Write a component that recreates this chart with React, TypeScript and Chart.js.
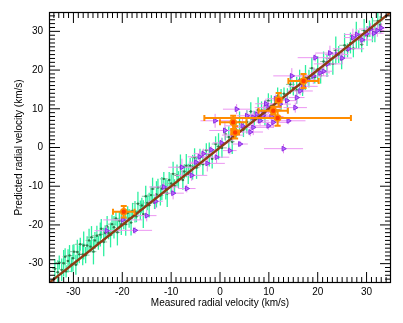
import { useEffect, useRef } from "react";
import { Chart, registerables } from "chart.js";

Chart.register(...registerables);

// ---- axis ----
const axisMin = -35;
const axisMax = 35;
const tickValues = [-30, -20, -10, 0, 10, 20, 30];
const xTitle = "Measured radial velocity (km/s)";
const yTitle = "Predicted radial velocity (km/s)";

// ---- y = x reference line ----
const lineX = [-35, 35];
const lineY = [-35, 35];

// ---- green sample ----
const greenX = [
  -33.8, -33.2, -32.9, -32.4, -32.0, -31.7, -31.5, -31.1, -30.8, -30.4, -30.1, -29.9, -29.5, -29.2, -28.8, -28.6, -28.1, -27.9, -27.5, -27.2,
  -26.8, -26.5, -26.3, -25.9, -25.6, -25.2, -24.9, -24.5, -24.3, -23.8, -23.5, -23.1, -22.8, -22.4, -22.1, -21.7, -21.3, -21.0, -20.6, -20.2,
  -19.7, -19.3, -18.9, -18.6, -18.2, -17.9, -17.4, -17.1, -16.8, -16.3, -16.0, -15.7, -15.2, -14.9, -14.5, -14.1, -13.8, -13.4, -13.0, -12.7,
  -12.2, -11.9, -11.5, -11.1, -10.8, -10.4, -10.0, -9.6, -9.3, -8.8, -8.5, -8.1, -7.6, -7.3, -6.9, -6.5, -6.1, -5.6, -5.2, -4.8,
  -4.1, -3.5, -2.8, -2.2, -1.6, -0.9, -0.3, 0.4, 1.1, 1.8, 2.5, 3.3, 4.0, 4.8, 5.5, 6.3, 7.0, 7.8,
  8.5, 9.2, 9.9, 10.5, 11.2, 11.8, 12.5, 13.1, 13.8, 14.4, 15.0, 15.7, 16.3, 16.9, 17.5, 18.2, 18.8, 19.4, 20.0, 20.6,
  21.2, 21.9, 22.5, 23.1, 23.7, 24.3, 24.9, 25.5, 26.1, 26.7, 27.3, 27.9, 28.4, 29.0, 29.5, 30.1, 30.6, 31.2, 31.7, 32.3, 32.8,
];
const greenY = [
  -31.3, -32.2, -29.7, -31.6, -29.9, -28.2, -32.0, -29.3, -27.9, -30.2, -28.6, -26.9, -30.3, -27.0, -27.6, -25.0, -27.6, -25.3, -27.8, -25.3,
  -24.0, -25.6, -23.2, -26.9, -24.0, -22.8, -24.6, -22.5, -21.0, -24.4, -22.1, -20.4, -22.1, -22.6, -19.8, -20.6, -18.3, -21.9, -18.9, -19.8,
  -18.5, -19.8, -16.9, -18.3, -19.4, -16.4, -16.6, -17.8, -14.5, -16.2, -15.0, -17.2, -12.6, -14.3, -14.9, -12.3, -10.7, -14.3, -12.1, -10.3,
  -12.4, -10.6, -8.1, -10.7, -11.9, -8.4, -9.3, -6.8, -9.9, -7.2, -8.3, -5.1, -8.4, -6.2, -4.7, -6.8, -4.7, -5.1, -2.6, -5.2,
  -2.6, -4.3, -0.7, -1.8, -2.9, 0.9, 0.3, -0.1, 3.5, 2.7, 1.5, 4.6, 6.6, 4.6, 6.6, 9.3, 7.3, 9.7,
  9.5, 8.6, 12.1, 10.8, 9.8, 13.3, 12.3, 13.9, 12.2, 16.3, 15.4, 14.8, 17.5, 15.1, 18.1, 17.8, 20.5, 18.2, 20.2, 18.6,
  22.2, 21.2, 23.0, 21.6, 25.1, 24.0, 22.7, 26.4, 25.1, 27.0, 25.6, 29.1, 27.9, 26.6, 30.2, 28.8, 30.7, 30.4, 29.7, 32.7, 31.7,
];
const greenXErr = [
  0.6, 0.4, 0.9, 0.3, 0.7, 0.5, 1.0, 0.4, 0.8, 0.6, 0.3, 0.9, 0.5, 0.7, 0.4, 1.1, 0.6, 0.3, 0.8, 0.5,
  0.7, 0.4, 0.9, 0.6, 0.3, 1.0, 0.5, 0.8, 0.4, 0.7, 0.6, 0.3, 0.9, 0.5, 0.8, 0.4, 0.7, 0.6, 1.0, 0.5,
  0.5, 0.8, 0.4, 0.7, 0.3, 0.9, 0.6, 0.4, 1.0, 0.5, 0.7, 0.3, 0.8, 0.6, 0.4, 0.9, 0.5, 0.7, 0.3, 1.1,
  0.6, 0.4, 0.8, 0.5, 0.7, 0.3, 0.9, 0.6, 0.4, 0.8, 0.5, 1.0, 0.3, 0.7, 0.6, 0.4, 0.9, 0.5, 0.8, 0.6,
  0.7, 0.4, 0.9, 0.5, 0.3, 0.8, 0.6, 1.0, 0.4, 0.7, 0.5, 0.3, 0.9, 0.6, 0.8, 0.4, 0.7, 0.5,
  0.6, 0.3, 0.8, 0.5, 1.0, 0.4, 0.7, 0.6, 0.3, 0.9, 0.5, 0.8, 0.4, 0.7, 0.3, 1.0, 0.6, 0.5, 0.8, 0.4,
  0.7, 0.3, 0.9, 0.6, 0.5, 0.8, 0.4, 1.1, 0.6, 0.3, 0.7, 0.5, 0.9, 0.4, 0.6, 0.8, 0.3, 0.7, 0.5, 1.0, 0.4,
];
const greenYErr = [
  2.5, 3.1, 1.8, 2.9, 3.4, 2.2, 1.6, 3.0, 2.7, 2.0, 3.5, 1.9, 2.6, 3.2, 2.3, 1.7, 2.8, 3.6, 2.1, 2.4,
  3.0, 1.5, 2.9, 3.3, 2.2, 2.6, 1.8, 3.1, 2.5, 3.7, 2.0, 2.7, 1.6, 3.2, 2.4, 2.9, 1.9, 3.4, 2.3, 2.8,
  2.6, 3.0, 1.7, 2.4, 3.3, 2.1, 2.8, 1.5, 3.1, 2.5, 2.0, 3.6, 2.7, 1.9, 3.2, 2.3, 2.9, 1.6, 3.4, 2.2,
  2.6, 3.0, 1.8, 2.7, 3.5, 2.1, 2.4, 3.1, 1.7, 2.8, 2.2, 3.3, 2.5, 1.9, 3.0, 2.6, 2.0, 3.2, 2.4, 2.9,
  2.3, 2.9, 1.8, 3.1, 2.5, 2.0, 3.4, 2.6, 1.7, 2.8, 3.2, 2.1, 2.7, 1.9, 3.0, 2.4, 2.2, 3.3,
  2.4, 3.0, 1.9, 2.7, 3.3, 2.2, 2.8, 1.6, 3.1, 2.5, 2.0, 3.5, 2.6, 1.8, 3.2, 2.3, 2.9, 1.7, 3.4, 2.1,
  2.6, 3.0, 1.9, 2.8, 3.6, 2.2, 2.5, 3.1, 1.8, 2.7, 2.3, 3.4, 2.4, 2.0, 3.0, 2.6, 2.1, 3.2, 2.5, 2.9, 2.2,
];

// ---- purple sample ----
const purpleX = [
  -23.2, -19.9, -17.4, -15.0, -13.2, -11.5, -9.6, -7.8, -6.8, -5.8, -4.9, -4.2, -3.4, -2.6, -1.8, -0.7, -1.0, 0.3, 1.0, 2.0,
  2.6, 3.4, 4.1, 4.6, 5.5, 6.2, 6.8, 6.8, 7.5, 8.2, 8.8, 8.9, 9.4, 9.9, 9.9, 10.5, 10.9, 11.4, 12.3, 13.0,
  13.7, 14.0, 14.7, 15.4, 15.7, 16.4, 17.0, 18.0, 19.1, 19.5, 20.5, 21.2, 22.0, 22.5, 23.9, 25.0, 26.3, 27.2, 28.0, 29.1,
  30.0, 30.8, 31.5, 32.2, 33.0,
];
const purpleY = [
  -21.5, -18.7, -21.4, -17.6, -13.9, -10.2, -11.8, -5.1, -10.6, -7.2, -3.8, -2.4, -1.6, -4.1, -0.6, -2.5, 6.9, 1.2, 4.4, -0.8,
  3.2, 9.9, 0.9, 5.6, 8.2, 4.0, 7.8, 5.2, 8.6, 6.9, 8.2, 9.1, 11.3, 10.3, 5.6, 8.0, 6.5, 12.6, 11.2, -0.3,
  12.1, 6.9, 18.5, 10.3, 12.9, 14.6, 15.8, 17.4, 18.5, 23.2, 19.3, 19.7, 21.6, 24.4, 24.0, 23.1, 25.5, 28.4, 29.2, 27.8,
  29.4, 30.6, 29.5, 30.2, 30.9,
];
const purpleXErr = [
  2.5, 4.0, 3.5, 2.0, 1.5, 3.0, 2.2, 2.8, 1.8, 3.2, 1.5, 2.4, 2.0, 3.6, 1.2, 2.6, 3.0, 1.8, 3.2, 1.4,
  2.2, 2.8, 1.6, 3.5, 2.0, 2.6, 1.4, 4.2, 2.4, 1.8, 3.0, 1.5, 2.2, 2.8, 1.6, 2.5, 3.4, 1.8, 2.2, 4.0,
  2.0, 3.5, 3.8, 2.4, 1.6, 2.6, 3.0, 2.2, 3.2, 3.6, 2.0, 1.8, 2.8, 3.0, 2.4, 2.0, 3.2, 1.8, 2.6, 2.2,
  1.6, 2.4, 2.0, 1.4, 1.2,
];
const purpleYErr = [
  1.2, 1.8, 0.9, 1.5, 2.0, 1.1, 1.6, 2.2, 1.0, 1.4, 0.8, 1.7, 1.3, 2.1, 0.9, 1.5, 1.8, 1.2, 2.4, 1.0,
  1.6, 1.3, 0.8, 1.9, 1.4, 1.1, 1.7, 2.0, 1.2, 1.5, 0.9, 1.8, 1.3, 1.6, 1.0, 2.2, 1.4, 1.1, 1.7, 1.2,
  1.5, 0.9, 2.0, 1.3, 1.6, 1.1, 1.8, 1.4, 2.1, 1.0, 1.5, 1.2, 1.7, 1.9, 1.3, 1.6, 1.0, 2.3, 1.4, 1.2,
  1.8, 1.5, 1.1, 1.6, 1.3,
];

// ---- orange sample ----
const orangeX = [-19.7, 2.7, 3.1, 10.9, 12.0, 11.8, 17.1];
const orangeY = [-16.6, 6.5, 3.9, 9.5, 12.3, 7.6, 17.2];
const orangeXErr = [2.2, 2.7, 0.8, 3.0, 0.6, 15.0, 3.1];
const orangeYErr = [1.5, 1.7, 1.6, 1.0, 1.8, 2.0, 1.8];

const toPoints = (xs: number[], ys: number[]) => xs.map((x, i) => ({ x, y: ys[i] }));

const errorBarPlugin = {
  id: "errorBars",
  beforeDatasetDraw(chart: any, args: any) {
    const ds: any = chart.data.datasets[args.index];
    const eb = ds.errorBars;
    if (!eb) return;
    const { ctx, chartArea: a, scales } = chart;
    const xs = scales.x;
    const ys = scales.y;
    ctx.save();
    ctx.beginPath();
    ctx.rect(a.left, a.top, a.right - a.left, a.bottom - a.top);
    ctx.clip();
    ctx.lineCap = "butt";
    ds.data.forEach((p: any, i: number) => {
      const ex = eb.x[i] ?? 0;
      const ey = eb.y[i] ?? 0;
      const px = xs.getPixelForValue(p.x);
      const py = ys.getPixelForValue(p.y);
      // horizontal
      ctx.strokeStyle = eb.xColor;
      ctx.lineWidth = eb.xWidth;
      const x1 = xs.getPixelForValue(p.x - ex);
      const x2 = xs.getPixelForValue(p.x + ex);
      ctx.beginPath();
      ctx.moveTo(x1, py);
      ctx.lineTo(x2, py);
      if (eb.cap) {
        ctx.moveTo(x1, py - eb.cap);
        ctx.lineTo(x1, py + eb.cap);
        ctx.moveTo(x2, py - eb.cap);
        ctx.lineTo(x2, py + eb.cap);
      }
      ctx.stroke();
      // vertical
      ctx.strokeStyle = eb.yColor;
      ctx.lineWidth = eb.yWidth;
      const y1 = ys.getPixelForValue(p.y - ey);
      const y2 = ys.getPixelForValue(p.y + ey);
      ctx.beginPath();
      ctx.moveTo(px, y1);
      ctx.lineTo(px, y2);
      if (eb.cap) {
        ctx.moveTo(px - eb.cap, y1);
        ctx.lineTo(px + eb.cap, y1);
        ctx.moveTo(px - eb.cap, y2);
        ctx.lineTo(px + eb.cap, y2);
      }
      ctx.stroke();
    });
    ctx.restore();
  },
};

const frameTicksPlugin = {
  id: "frameTicks",
  afterDatasetsDraw(chart: any) {
    const { ctx, chartArea: a, scales } = chart;
    const xs = scales.x;
    const ys = scales.y;
    ctx.save();
    ctx.strokeStyle = "#000";
    ctx.lineWidth = 1.2;
    ctx.strokeRect(a.left + 0.5, a.top + 0.5, a.right - a.left - 1, a.bottom - a.top - 1);
    ctx.lineWidth = 1;
    ctx.beginPath();
    for (let v = axisMin + 1; v < axisMax; v++) {
      const len = v % 10 === 0 ? 11 : 6;
      const px = xs.getPixelForValue(v);
      ctx.moveTo(px, a.bottom);
      ctx.lineTo(px, a.bottom - len);
      ctx.moveTo(px, a.top);
      ctx.lineTo(px, a.top + len);
      const py = ys.getPixelForValue(v);
      ctx.moveTo(a.left, py);
      ctx.lineTo(a.left + len, py);
      ctx.moveTo(a.right, py);
      ctx.lineTo(a.right - len, py);
    }
    ctx.stroke();
    ctx.restore();
  },
};

export default function App() {
  const ref = useRef<HTMLCanvasElement>(null);
  useEffect(() => {
    document.body.style.margin = "0";
    const canvas = ref.current;
    if (!canvas) return;
    const font = { family: "'Liberation Sans', Arial, sans-serif", size: 10 };
    const chart = new Chart(canvas, {
      type: "scatter",
      data: {
        datasets: [
          {
            type: "scatter",
            label: "orange",
            data: toPoints(orangeX, orangeY),
            pointRadius: 3,
            pointBackgroundColor: "#ff3c00",
            pointBorderColor: "#ff8a00",
            pointBorderWidth: 1.5,
            order: 1,
            errorBars: { x: orangeXErr, y: orangeYErr, xColor: "#ff8c00", yColor: "#ff8c00", xWidth: 2, yWidth: 2, cap: 3 },
          } as any,
          {
            type: "line",
            label: "line",
            data: toPoints(lineX, lineY),
            borderColor: "#8c3c14",
            borderWidth: 2.5,
            pointRadius: 0,
            fill: false,
            order: 2,
          } as any,
          {
            type: "scatter",
            label: "purple",
            data: toPoints(purpleX, purpleY),
            pointStyle: "triangle",
            rotation: 90,
            pointRadius: 2.8,
            pointBackgroundColor: "rgba(175,100,255,0.9)",
            pointBorderColor: "#8a2be2",
            pointBorderWidth: 1,
            order: 3,
            errorBars: { x: purpleXErr, y: purpleYErr, xColor: "#ec96f2", yColor: "#e58af0", xWidth: 1, yWidth: 1, cap: 0 },
          } as any,
          {
            type: "scatter",
            label: "green",
            data: toPoints(greenX, greenY),
            pointRadius: 1.2,
            pointBackgroundColor: "#2e7a4c",
            pointBorderWidth: 0,
            order: 4,
            errorBars: { x: greenXErr, y: greenYErr, xColor: "#86c8a6", yColor: "#2cf0a0", xWidth: 1, yWidth: 1.3, cap: 0 },
          } as any,
        ],
      },
      options: {
        animation: false,
        responsive: false,
        maintainAspectRatio: false,
        layout: { padding: { left: 0, right: 12, top: 11, bottom: 0 } },
        plugins: { legend: { display: false }, tooltip: { enabled: false } },
        scales: {
          x: {
            type: "linear",
            min: axisMin,
            max: axisMax,
            afterBuildTicks: (s: any) => {
              s.ticks = tickValues.map((v) => ({ value: v }));
            },
            afterFit: (s: any) => {
              s.height = 40;
            },
            grid: { display: false, drawTicks: false },
            border: { display: false },
            ticks: { color: "#000", font, padding: 3, maxRotation: 0, autoSkip: false },
            title: { display: true, text: xTitle, color: "#000", font, padding: { top: 0, bottom: 14 } },
          },
          y: {
            type: "linear",
            min: axisMin,
            max: axisMax,
            afterBuildTicks: (s: any) => {
              s.ticks = tickValues.map((v) => ({ value: v }));
            },
            afterFit: (s: any) => {
              s.width = 49;
            },
            grid: { display: false, drawTicks: false },
            border: { display: false },
            ticks: { color: "#000", font, padding: 6, autoSkip: false },
            title: { display: true, text: yTitle, color: "#000", font, padding: { top: 13, bottom: 0 } },
          },
        },
      },
      plugins: [errorBarPlugin, frameTicksPlugin],
    } as any);
    return () => chart.destroy();
  }, []);
  return <canvas ref={ref} width={403} height={323} style={{ display: "block", width: 403, height: 323 }} />;
}
